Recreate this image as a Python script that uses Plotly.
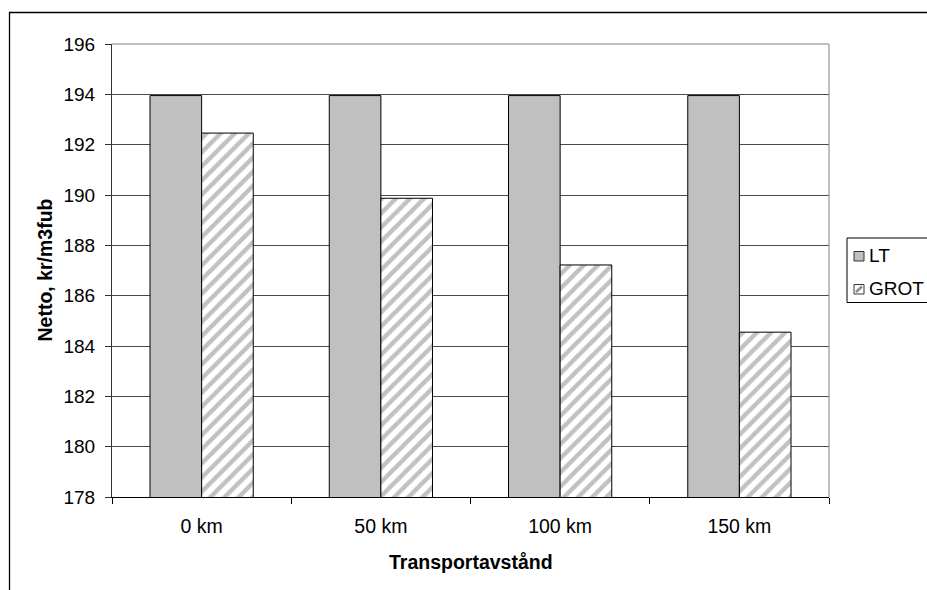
import plotly.graph_objects as go

categories = ["0 km", "50 km", "100 km", "150 km"]
lt_values = [193.95, 193.95, 193.95, 193.95]
grot_values = [192.46, 189.87, 187.22, 184.55]
y_ticks = [178, 180, 182, 184, 186, 188, 190, 192, 194, 196]
series_names = ["LT", "GROT"]

FONT = "Arial, 'Liberation Sans', sans-serif"

W, H = 927, 590
L, R, T, B = 112, 98, 44, 93
pw, ph = W - L - R, H - T - B

def px_x(p):
    return (p - L) / pw

def px_y(p):
    return (H - B - p) / ph

fig = go.Figure()
fig.add_trace(go.Bar(
    x=categories, y=lt_values, name=series_names[0],
    marker=dict(color="#C0C0C0", line=dict(color="#000000", width=1)),
))
fig.add_trace(go.Bar(
    x=categories, y=grot_values, name=series_names[1],
    marker=dict(color="#FFFFFF", line=dict(color="#000000", width=1),
                pattern=dict(shape="/", fgcolor="#848484", bgcolor="#FFFFFF",
                             size=10, solidity=0.45)),
))

# Manual legend (box, symbols, labels) to match the reference spacing
legend_shapes = [
    dict(type="rect", xref="paper", yref="paper",
         x0=px_x(847), x1=px_x(1000), y0=px_y(302.5), y1=px_y(238),
         line=dict(color="#000000", width=1), fillcolor="white", layer="above"),
    dict(type="rect", xref="paper", yref="paper",
         x0=px_x(854), x1=px_x(864), y0=px_y(261), y1=px_y(251.5),
         line=dict(color="#333333", width=1), fillcolor="#C0C0C0", layer="above"),
    dict(type="rect", xref="paper", yref="paper",
         x0=px_x(854), x1=px_x(864), y0=px_y(294), y1=px_y(284.5),
         line=dict(color="#333333", width=1), fillcolor="white", layer="above"),
    dict(type="line", xref="paper", yref="paper",
         x0=px_x(856), x1=px_x(862), y0=px_y(292), y1=px_y(286.5),
         line=dict(color="#8a8a8a", width=2.5), layer="above"),
]

fig.update_layout(
    width=W, height=H,
    margin=dict(l=L, r=R, t=T, b=B, autoexpand=False),
    paper_bgcolor="white", plot_bgcolor="white",
    font=dict(family=FONT, size=19, color="#000000"),
    barmode="group", bargap=0.424, bargroupgap=0,
    showlegend=False,
    xaxis=dict(
        type="category", categoryorder="array", categoryarray=categories,
        showline=True, linecolor="#000000", linewidth=1,
        ticks="outside", ticklen=6, tickcolor="#000000", tickson="boundaries",
        showgrid=False, tickfont=dict(size=19.5), ticklabelstandoff=12,
        fixedrange=True,
    ),
    yaxis=dict(
        range=[178, 196], tickvals=y_ticks, ticktext=[str(v) for v in y_ticks],
        showline=True, linecolor="#333333", linewidth=1,
        ticks="outside", ticklen=6, tickcolor="#333333",
        showgrid=True, gridcolor="#4a4a4a", gridwidth=1,
        tickfont=dict(size=19), ticklabelstandoff=6, zeroline=False,
        fixedrange=True,
    ),
    annotations=[
        dict(text="<b>Netto, kr/m3fub</b>", xref="paper", yref="paper",
             x=px_x(44), y=0.5, textangle=-90, showarrow=False,
             font=dict(size=19.5), xanchor="center", yanchor="middle"),
        dict(text="<b>Transportavstånd</b>", xref="paper", yref="paper",
             x=0.5, y=px_y(562), showarrow=False,
             font=dict(size=19.5), xanchor="center", yanchor="middle"),
        dict(text=series_names[0], xref="paper", yref="paper",
             x=px_x(867), y=px_y(255.5), showarrow=False,
             font=dict(size=19), xanchor="left", yanchor="middle"),
        dict(text=series_names[1], xref="paper", yref="paper",
             x=px_x(867), y=px_y(288), showarrow=False,
             font=dict(size=19), xanchor="left", yanchor="middle"),
    ],
    shapes=[
        dict(type="rect", xref="paper", yref="paper",
             x0=px_x(9.5), x1=px_x(1000), y0=px_y(700), y1=px_y(12.5),
             line=dict(color="#000000", width=1.3), layer="below"),
        dict(type="line", xref="paper", yref="paper", x0=1, x1=1, y0=0, y1=1,
             line=dict(color="#808080", width=1)),
        dict(type="line", xref="paper", yref="paper", x0=0, x1=1, y0=1, y1=1,
             line=dict(color="#808080", width=1)),
    ] + legend_shapes,
)

fig.write_html("out.html")
